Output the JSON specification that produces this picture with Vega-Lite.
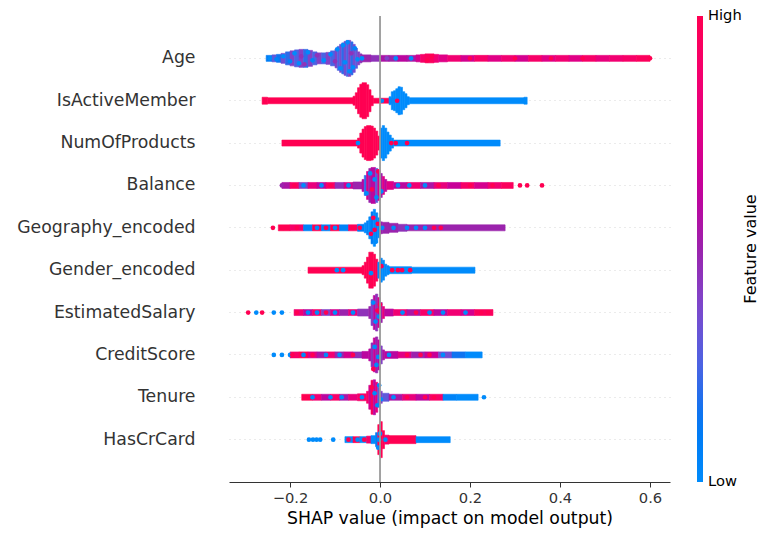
{
  "$schema": "https://vega.github.io/schema/vega-lite/v6.json",
  "description": "SHAP summary (beeswarm) plot of churn model features",
  "autosize": "none",
  "width": 441,
  "height": 466,
  "padding": {"left": 229, "top": 16, "right": 101, "bottom": 58},
  "config": {
    "font": "DejaVu Sans",
    "view": {"stroke": null}
  },
  "datasets": {
    "seg": [
      {"f":"Age","s":-0.253,"e":-0.24,"n":6,"v":0.1},
      {"f":"Age","s":-0.24,"e":-0.23,"n":7,"v":0.3},
      {"f":"Age","s":-0.23,"e":-0.22,"n":8,"v":0.15},
      {"f":"Age","s":-0.22,"e":-0.21,"n":10,"v":0.35},
      {"f":"Age","s":-0.21,"e":-0.2,"n":13,"v":0.2},
      {"f":"Age","s":-0.2,"e":-0.19,"n":15,"v":0.4},
      {"f":"Age","s":-0.19,"e":-0.18,"n":17,"v":0.25},
      {"f":"Age","s":-0.18,"e":-0.17,"n":18,"v":0.4},
      {"f":"Age","s":-0.17,"e":-0.16,"n":18,"v":0.2},
      {"f":"Age","s":-0.16,"e":-0.15,"n":16,"v":0.4},
      {"f":"Age","s":-0.15,"e":-0.14,"n":13,"v":0.25},
      {"f":"Age","s":-0.14,"e":-0.13,"n":11,"v":0.4},
      {"f":"Age","s":-0.13,"e":-0.12,"n":11,"v":0.25},
      {"f":"Age","s":-0.12,"e":-0.11,"n":12,"v":0.4},
      {"f":"Age","s":-0.11,"e":-0.1,"n":15,"v":0.25},
      {"f":"Age","s":-0.1,"e":-0.095,"n":19,"v":0.4},
      {"f":"Age","s":-0.095,"e":-0.09,"n":24,"v":0.25},
      {"f":"Age","s":-0.09,"e":-0.085,"n":28,"v":0.35},
      {"f":"Age","s":-0.085,"e":-0.08,"n":31,"v":0.2},
      {"f":"Age","s":-0.08,"e":-0.075,"n":34,"v":0.35},
      {"f":"Age","s":-0.075,"e":-0.07,"n":36,"v":0.25},
      {"f":"Age","s":-0.07,"e":-0.065,"n":36,"v":0.4},
      {"f":"Age","s":-0.065,"e":-0.06,"n":33,"v":0.2},
      {"f":"Age","s":-0.06,"e":-0.055,"n":28,"v":0.35},
      {"f":"Age","s":-0.055,"e":-0.05,"n":20,"v":0.3},
      {"f":"Age","s":-0.05,"e":-0.045,"n":13,"v":0.4},
      {"f":"Age","s":-0.045,"e":-0.04,"n":9,"v":0.45},
      {"f":"Age","s":-0.04,"e":-0.02,"n":7,"v":0.5},
      {"f":"Age","s":-0.02,"e":0.0,"n":6,"v":0.45},
      {"f":"Age","s":0.0,"e":0.02,"n":6,"v":0.55},
      {"f":"Age","s":0.02,"e":0.04,"n":6,"v":0.5},
      {"f":"Age","s":0.04,"e":0.06,"n":6,"v":0.6},
      {"f":"Age","s":0.06,"e":0.08,"n":6,"v":0.55},
      {"f":"Age","s":0.08,"e":0.09,"n":7,"v":0.7},
      {"f":"Age","s":0.09,"e":0.1,"n":8,"v":0.9},
      {"f":"Age","s":0.1,"e":0.12,"n":9,"v":0.95},
      {"f":"Age","s":0.12,"e":0.13,"n":8,"v":0.85},
      {"f":"Age","s":0.13,"e":0.15,"n":7,"v":0.75},
      {"f":"Age","s":0.15,"e":0.18,"n":6,"v":0.85},
      {"f":"Age","s":0.18,"e":0.21,"n":6,"v":0.7},
      {"f":"Age","s":0.21,"e":0.24,"n":6,"v":0.9},
      {"f":"Age","s":0.24,"e":0.27,"n":6,"v":0.75},
      {"f":"Age","s":0.27,"e":0.3,"n":6,"v":0.85},
      {"f":"Age","s":0.3,"e":0.33,"n":6,"v":0.7},
      {"f":"Age","s":0.33,"e":0.36,"n":6,"v":0.9},
      {"f":"Age","s":0.36,"e":0.39,"n":6,"v":0.75},
      {"f":"Age","s":0.39,"e":0.42,"n":6,"v":0.85},
      {"f":"Age","s":0.42,"e":0.45,"n":6,"v":0.75},
      {"f":"Age","s":0.45,"e":0.48,"n":6,"v":0.9},
      {"f":"Age","s":0.48,"e":0.51,"n":6,"v":0.8},
      {"f":"Age","s":0.51,"e":0.54,"n":6,"v":0.85},
      {"f":"Age","s":0.54,"e":0.57,"n":6,"v":0.9},
      {"f":"Age","s":0.57,"e":0.6,"n":6,"v":0.95},

      {"f":"IsActiveMember","s":-0.262,"e":-0.25,"n":7,"v":1},
      {"f":"IsActiveMember","s":-0.25,"e":-0.06,"n":6,"v":1},
      {"f":"IsActiveMember","s":-0.06,"e":-0.055,"n":9,"v":1},
      {"f":"IsActiveMember","s":-0.055,"e":-0.05,"n":16,"v":1},
      {"f":"IsActiveMember","s":-0.05,"e":-0.045,"n":26,"v":1},
      {"f":"IsActiveMember","s":-0.045,"e":-0.04,"n":33,"v":1},
      {"f":"IsActiveMember","s":-0.04,"e":-0.03,"n":36,"v":1},
      {"f":"IsActiveMember","s":-0.03,"e":-0.025,"n":32,"v":1},
      {"f":"IsActiveMember","s":-0.025,"e":-0.02,"n":22,"v":1},
      {"f":"IsActiveMember","s":-0.02,"e":-0.015,"n":10,"v":1},
      {"f":"IsActiveMember","s":-0.015,"e":0.03,"n":5,"v":1},
      {"f":"IsActiveMember","s":0.02,"e":0.025,"n":8,"v":0},
      {"f":"IsActiveMember","s":0.025,"e":0.03,"n":18,"v":0},
      {"f":"IsActiveMember","s":0.03,"e":0.035,"n":20,"v":0},
      {"f":"IsActiveMember","s":0.035,"e":0.04,"n":24,"v":0},
      {"f":"IsActiveMember","s":0.04,"e":0.045,"n":28,"v":0},
      {"f":"IsActiveMember","s":0.045,"e":0.05,"n":27,"v":0},
      {"f":"IsActiveMember","s":0.05,"e":0.055,"n":18,"v":0},
      {"f":"IsActiveMember","s":0.055,"e":0.06,"n":14,"v":0},
      {"f":"IsActiveMember","s":0.06,"e":0.065,"n":8,"v":0},
      {"f":"IsActiveMember","s":0.065,"e":0.32,"n":6,"v":0},
      {"f":"IsActiveMember","s":0.32,"e":0.327,"n":7,"v":0},

      {"f":"NumOfProducts","s":-0.218,"e":-0.05,"n":6,"v":1},
      {"f":"NumOfProducts","s":-0.05,"e":-0.045,"n":10,"v":1},
      {"f":"NumOfProducts","s":-0.045,"e":-0.04,"n":20,"v":1},
      {"f":"NumOfProducts","s":-0.04,"e":-0.035,"n":28,"v":1},
      {"f":"NumOfProducts","s":-0.035,"e":-0.03,"n":33,"v":1},
      {"f":"NumOfProducts","s":-0.03,"e":-0.02,"n":35,"v":1},
      {"f":"NumOfProducts","s":-0.02,"e":-0.015,"n":34,"v":1},
      {"f":"NumOfProducts","s":-0.015,"e":-0.01,"n":30,"v":1},
      {"f":"NumOfProducts","s":-0.01,"e":-0.005,"n":24,"v":1},
      {"f":"NumOfProducts","s":-0.005,"e":0.0,"n":14,"v":1},
      {"f":"NumOfProducts","s":0.0,"e":0.005,"n":30,"v":0},
      {"f":"NumOfProducts","s":0.005,"e":0.01,"n":35,"v":0},
      {"f":"NumOfProducts","s":0.01,"e":0.015,"n":30,"v":0},
      {"f":"NumOfProducts","s":0.015,"e":0.02,"n":22,"v":0},
      {"f":"NumOfProducts","s":0.02,"e":0.025,"n":16,"v":0},
      {"f":"NumOfProducts","s":0.025,"e":0.03,"n":10,"v":0},
      {"f":"NumOfProducts","s":0.03,"e":0.267,"n":6,"v":0},

      {"f":"Balance","s":-0.218,"e":-0.2,"n":6,"v":0.55},
      {"f":"Balance","s":-0.2,"e":-0.18,"n":6,"v":0.9},
      {"f":"Balance","s":-0.18,"e":-0.16,"n":6,"v":0.4},
      {"f":"Balance","s":-0.16,"e":-0.14,"n":6,"v":0.8},
      {"f":"Balance","s":-0.14,"e":-0.12,"n":6,"v":0.6},
      {"f":"Balance","s":-0.12,"e":-0.1,"n":6,"v":0.9},
      {"f":"Balance","s":-0.1,"e":-0.08,"n":6,"v":0.45},
      {"f":"Balance","s":-0.08,"e":-0.06,"n":6,"v":0.7},
      {"f":"Balance","s":-0.06,"e":-0.04,"n":7,"v":0.5},
      {"f":"Balance","s":-0.04,"e":-0.035,"n":12,"v":0.6},
      {"f":"Balance","s":-0.035,"e":-0.03,"n":20,"v":0.2},
      {"f":"Balance","s":-0.03,"e":-0.025,"n":28,"v":0.7},
      {"f":"Balance","s":-0.025,"e":-0.02,"n":34,"v":0.5},
      {"f":"Balance","s":-0.02,"e":-0.01,"n":36,"v":0.6},
      {"f":"Balance","s":-0.01,"e":-0.005,"n":34,"v":0.3},
      {"f":"Balance","s":-0.005,"e":0.0,"n":30,"v":0.7},
      {"f":"Balance","s":0.0,"e":0.005,"n":24,"v":0.5},
      {"f":"Balance","s":0.005,"e":0.01,"n":18,"v":0.75},
      {"f":"Balance","s":0.01,"e":0.015,"n":12,"v":0.6},
      {"f":"Balance","s":0.015,"e":0.03,"n":8,"v":0.75},
      {"f":"Balance","s":0.03,"e":0.06,"n":6,"v":0.6},
      {"f":"Balance","s":0.06,"e":0.09,"n":6,"v":0.85},
      {"f":"Balance","s":0.09,"e":0.12,"n":6,"v":0.55},
      {"f":"Balance","s":0.12,"e":0.15,"n":6,"v":0.8},
      {"f":"Balance","s":0.15,"e":0.18,"n":6,"v":0.65},
      {"f":"Balance","s":0.18,"e":0.21,"n":6,"v":0.9},
      {"f":"Balance","s":0.21,"e":0.24,"n":6,"v":0.7},
      {"f":"Balance","s":0.24,"e":0.27,"n":6,"v":0.85},
      {"f":"Balance","s":0.27,"e":0.296,"n":6,"v":0.95},

      {"f":"Geography_encoded","s":-0.226,"e":-0.2,"n":6,"v":1},
      {"f":"Geography_encoded","s":-0.2,"e":-0.17,"n":6,"v":0.9},
      {"f":"Geography_encoded","s":-0.17,"e":-0.15,"n":6,"v":0.05},
      {"f":"Geography_encoded","s":-0.15,"e":-0.13,"n":6,"v":1},
      {"f":"Geography_encoded","s":-0.13,"e":-0.11,"n":6,"v":0.05},
      {"f":"Geography_encoded","s":-0.11,"e":-0.09,"n":6,"v":1},
      {"f":"Geography_encoded","s":-0.09,"e":-0.07,"n":6,"v":0.05},
      {"f":"Geography_encoded","s":-0.07,"e":-0.05,"n":6,"v":0.95},
      {"f":"Geography_encoded","s":-0.05,"e":-0.035,"n":7,"v":0.1},
      {"f":"Geography_encoded","s":-0.035,"e":-0.03,"n":10,"v":0},
      {"f":"Geography_encoded","s":-0.03,"e":-0.025,"n":14,"v":0.05},
      {"f":"Geography_encoded","s":-0.025,"e":-0.02,"n":22,"v":0},
      {"f":"Geography_encoded","s":-0.02,"e":-0.015,"n":32,"v":0.1},
      {"f":"Geography_encoded","s":-0.015,"e":-0.01,"n":37,"v":0},
      {"f":"Geography_encoded","s":-0.01,"e":-0.005,"n":30,"v":0.05},
      {"f":"Geography_encoded","s":-0.005,"e":0.0,"n":20,"v":0},
      {"f":"Geography_encoded","s":0.0,"e":0.005,"n":12,"v":0.5},
      {"f":"Geography_encoded","s":0.005,"e":0.02,"n":11,"v":0.5},
      {"f":"Geography_encoded","s":0.02,"e":0.04,"n":9,"v":0.5},
      {"f":"Geography_encoded","s":0.04,"e":0.06,"n":7,"v":0.45},
      {"f":"Geography_encoded","s":0.06,"e":0.278,"n":6,"v":0.5},

      {"f":"Gender_encoded","s":-0.16,"e":-0.04,"n":6,"v":1},
      {"f":"Gender_encoded","s":-0.04,"e":-0.035,"n":9,"v":1},
      {"f":"Gender_encoded","s":-0.035,"e":-0.03,"n":16,"v":1},
      {"f":"Gender_encoded","s":-0.03,"e":-0.025,"n":26,"v":1},
      {"f":"Gender_encoded","s":-0.025,"e":-0.015,"n":36,"v":1},
      {"f":"Gender_encoded","s":-0.015,"e":-0.01,"n":32,"v":1},
      {"f":"Gender_encoded","s":-0.01,"e":-0.005,"n":22,"v":1},
      {"f":"Gender_encoded","s":-0.005,"e":0.0,"n":16,"v":0},
      {"f":"Gender_encoded","s":0.0,"e":0.005,"n":24,"v":0},
      {"f":"Gender_encoded","s":0.005,"e":0.01,"n":20,"v":0},
      {"f":"Gender_encoded","s":0.01,"e":0.015,"n":12,"v":0},
      {"f":"Gender_encoded","s":0.015,"e":0.02,"n":9,"v":0},
      {"f":"Gender_encoded","s":0.02,"e":0.07,"n":7,"v":0},
      {"f":"Gender_encoded","s":0.07,"e":0.211,"n":6,"v":0},

      {"f":"EstimatedSalary","s":-0.191,"e":-0.17,"n":6,"v":0.85},
      {"f":"EstimatedSalary","s":-0.17,"e":-0.15,"n":6,"v":0.6},
      {"f":"EstimatedSalary","s":-0.15,"e":-0.13,"n":6,"v":0.9},
      {"f":"EstimatedSalary","s":-0.13,"e":-0.11,"n":6,"v":0.4},
      {"f":"EstimatedSalary","s":-0.11,"e":-0.09,"n":6,"v":0.7},
      {"f":"EstimatedSalary","s":-0.09,"e":-0.07,"n":6,"v":0.5},
      {"f":"EstimatedSalary","s":-0.07,"e":-0.05,"n":6,"v":0.8},
      {"f":"EstimatedSalary","s":-0.05,"e":-0.025,"n":7,"v":0.45},
      {"f":"EstimatedSalary","s":-0.025,"e":-0.02,"n":12,"v":0.5},
      {"f":"EstimatedSalary","s":-0.02,"e":-0.015,"n":26,"v":0.4},
      {"f":"EstimatedSalary","s":-0.015,"e":-0.01,"n":34,"v":0.6},
      {"f":"EstimatedSalary","s":-0.01,"e":-0.005,"n":37,"v":0.45},
      {"f":"EstimatedSalary","s":-0.005,"e":0.0,"n":30,"v":0.7},
      {"f":"EstimatedSalary","s":0.0,"e":0.005,"n":20,"v":0.5},
      {"f":"EstimatedSalary","s":0.005,"e":0.01,"n":12,"v":0.8},
      {"f":"EstimatedSalary","s":0.01,"e":0.03,"n":7,"v":0.6},
      {"f":"EstimatedSalary","s":0.03,"e":0.06,"n":6,"v":0.85},
      {"f":"EstimatedSalary","s":0.06,"e":0.09,"n":6,"v":0.55},
      {"f":"EstimatedSalary","s":0.09,"e":0.12,"n":6,"v":0.9},
      {"f":"EstimatedSalary","s":0.12,"e":0.15,"n":6,"v":0.6},
      {"f":"EstimatedSalary","s":0.15,"e":0.18,"n":6,"v":0.85},
      {"f":"EstimatedSalary","s":0.18,"e":0.21,"n":6,"v":0.7},
      {"f":"EstimatedSalary","s":0.21,"e":0.251,"n":6,"v":0.95},

      {"f":"CreditScore","s":-0.2,"e":-0.18,"n":6,"v":0.9},
      {"f":"CreditScore","s":-0.18,"e":-0.16,"n":6,"v":1},
      {"f":"CreditScore","s":-0.16,"e":-0.14,"n":6,"v":0.75},
      {"f":"CreditScore","s":-0.14,"e":-0.12,"n":6,"v":0.55},
      {"f":"CreditScore","s":-0.12,"e":-0.1,"n":6,"v":0.85},
      {"f":"CreditScore","s":-0.1,"e":-0.08,"n":6,"v":0.5},
      {"f":"CreditScore","s":-0.08,"e":-0.06,"n":6,"v":0.7},
      {"f":"CreditScore","s":-0.06,"e":-0.04,"n":6,"v":0.45},
      {"f":"CreditScore","s":-0.04,"e":-0.025,"n":7,"v":0.6},
      {"f":"CreditScore","s":-0.025,"e":-0.02,"n":12,"v":0.6},
      {"f":"CreditScore","s":-0.02,"e":-0.015,"n":24,"v":0.45},
      {"f":"CreditScore","s":-0.015,"e":-0.01,"n":34,"v":0.65},
      {"f":"CreditScore","s":-0.01,"e":-0.005,"n":36,"v":0.5},
      {"f":"CreditScore","s":-0.005,"e":0.0,"n":30,"v":0.6},
      {"f":"CreditScore","s":0.0,"e":0.005,"n":18,"v":0.4},
      {"f":"CreditScore","s":0.005,"e":0.01,"n":10,"v":0.55},
      {"f":"CreditScore","s":0.01,"e":0.04,"n":7,"v":0.6},
      {"f":"CreditScore","s":0.04,"e":0.07,"n":6,"v":0.75},
      {"f":"CreditScore","s":0.07,"e":0.1,"n":6,"v":0.5},
      {"f":"CreditScore","s":0.1,"e":0.13,"n":6,"v":0.65},
      {"f":"CreditScore","s":0.13,"e":0.16,"n":6,"v":0.35},
      {"f":"CreditScore","s":0.16,"e":0.19,"n":6,"v":0.15},
      {"f":"CreditScore","s":0.19,"e":0.227,"n":6,"v":0},

      {"f":"Tenure","s":-0.174,"e":-0.15,"n":6,"v":1},
      {"f":"Tenure","s":-0.15,"e":-0.13,"n":6,"v":0.85},
      {"f":"Tenure","s":-0.13,"e":-0.11,"n":6,"v":0.6},
      {"f":"Tenure","s":-0.11,"e":-0.09,"n":6,"v":0.9},
      {"f":"Tenure","s":-0.09,"e":-0.07,"n":6,"v":0.55},
      {"f":"Tenure","s":-0.07,"e":-0.05,"n":6,"v":0.8},
      {"f":"Tenure","s":-0.05,"e":-0.03,"n":7,"v":0.9},
      {"f":"Tenure","s":-0.03,"e":-0.025,"n":12,"v":0.9},
      {"f":"Tenure","s":-0.025,"e":-0.02,"n":24,"v":0.7},
      {"f":"Tenure","s":-0.02,"e":-0.015,"n":34,"v":0.95},
      {"f":"Tenure","s":-0.015,"e":-0.01,"n":35,"v":0.6},
      {"f":"Tenure","s":-0.01,"e":-0.005,"n":30,"v":0.8},
      {"f":"Tenure","s":-0.005,"e":0.0,"n":20,"v":0.3},
      {"f":"Tenure","s":0.0,"e":0.005,"n":12,"v":0.4},
      {"f":"Tenure","s":0.005,"e":0.02,"n":8,"v":0.3},
      {"f":"Tenure","s":0.02,"e":0.05,"n":6,"v":0.55},
      {"f":"Tenure","s":0.05,"e":0.08,"n":6,"v":0.8},
      {"f":"Tenure","s":0.08,"e":0.11,"n":6,"v":0.6},
      {"f":"Tenure","s":0.11,"e":0.14,"n":6,"v":0.9},
      {"f":"Tenure","s":0.14,"e":0.17,"n":6,"v":0.05},
      {"f":"Tenure","s":0.17,"e":0.218,"n":6,"v":0},

      {"f":"HasCrCard","s":-0.078,"e":-0.06,"n":6,"v":0},
      {"f":"HasCrCard","s":-0.06,"e":-0.045,"n":6,"v":1},
      {"f":"HasCrCard","s":-0.045,"e":-0.03,"n":6,"v":0},
      {"f":"HasCrCard","s":-0.03,"e":-0.02,"n":7,"v":0.9},
      {"f":"HasCrCard","s":-0.02,"e":-0.01,"n":8,"v":0},
      {"f":"HasCrCard","s":-0.01,"e":-0.005,"n":14,"v":0.1},
      {"f":"HasCrCard","s":-0.005,"e":0.0,"n":30,"v":1},
      {"f":"HasCrCard","s":0.0,"e":0.005,"n":36,"v":1},
      {"f":"HasCrCard","s":0.005,"e":0.01,"n":18,"v":1},
      {"f":"HasCrCard","s":0.01,"e":0.02,"n":9,"v":0.9},
      {"f":"HasCrCard","s":0.02,"e":0.08,"n":8,"v":1},
      {"f":"HasCrCard","s":0.08,"e":0.156,"n":6,"v":0}
    ],
    "dot": [
      {"f":"Age","s":-0.245,"o":0,"v":0},
      {"f":"Age","s":-0.23,"o":1,"v":0.05},
      {"f":"Age","s":-0.215,"o":-2,"v":0},
      {"f":"Age","s":-0.2,"o":3,"v":0.05},
      {"f":"Age","s":-0.19,"o":-5,"v":0},
      {"f":"Age","s":-0.18,"o":5,"v":0},
      {"f":"Age","s":-0.175,"o":-2,"v":0.45},
      {"f":"Age","s":-0.168,"o":6,"v":0.45},
      {"f":"Age","s":-0.16,"o":-6,"v":0},
      {"f":"Age","s":-0.15,"o":2,"v":0.05},
      {"f":"Age","s":-0.14,"o":-3,"v":0.45},
      {"f":"Age","s":-0.125,"o":2,"v":0},
      {"f":"Age","s":-0.11,"o":-4,"v":0},
      {"f":"Age","s":-0.1,"o":3,"v":0.45},
      {"f":"Age","s":-0.095,"o":-9,"v":0},
      {"f":"Age","s":-0.088,"o":10,"v":0},
      {"f":"Age","s":-0.082,"o":-13,"v":0},
      {"f":"Age","s":-0.078,"o":4,"v":0},
      {"f":"Age","s":-0.072,"o":-16,"v":0},
      {"f":"Age","s":-0.068,"o":13,"v":0},
      {"f":"Age","s":-0.064,"o":-5,"v":0.45},
      {"f":"Age","s":-0.06,"o":9,"v":0},
      {"f":"Age","s":-0.056,"o":-10,"v":0.05},
      {"f":"Age","s":-0.05,"o":1,"v":0},
      {"f":"Age","s":-0.04,"o":0,"v":0},
      {"f":"Age","s":-0.025,"o":0,"v":0.5},
      {"f":"Age","s":0.015,"o":0,"v":0.4},
      {"f":"Age","s":0.035,"o":0,"v":0},
      {"f":"Age","s":0.069,"o":0,"v":0},
      {"f":"Age","s":0.105,"o":2,"v":1},
      {"f":"Age","s":0.115,"o":-2,"v":1},
      {"f":"Age","s":0.2,"o":0,"v":1},
      {"f":"Age","s":0.3,"o":0,"v":1},
      {"f":"Age","s":0.38,"o":0,"v":1},
      {"f":"Age","s":0.45,"o":0,"v":1},
      {"f":"Age","s":0.6,"o":0,"v":1},
      {"f":"IsActiveMember","s":0.004,"o":0,"v":0},
      {"f":"IsActiveMember","s":0.038,"o":0,"v":1},
      {"f":"NumOfProducts","s":-0.049,"o":0,"v":0},
      {"f":"NumOfProducts","s":0.025,"o":0,"v":1},
      {"f":"NumOfProducts","s":0.035,"o":0,"v":1},
      {"f":"NumOfProducts","s":0.045,"o":0,"v":0},
      {"f":"NumOfProducts","s":0.06,"o":0,"v":1},
      {"f":"Balance","s":-0.218,"o":0,"v":0.5},
      {"f":"Balance","s":-0.19,"o":0,"v":1},
      {"f":"Balance","s":-0.17,"o":0,"v":0},
      {"f":"Balance","s":-0.13,"o":0,"v":0},
      {"f":"Balance","s":-0.11,"o":0,"v":1},
      {"f":"Balance","s":-0.07,"o":0,"v":0},
      {"f":"Balance","s":-0.03,"o":8,"v":0},
      {"f":"Balance","s":-0.022,"o":-12,"v":0},
      {"f":"Balance","s":-0.018,"o":4,"v":1},
      {"f":"Balance","s":-0.012,"o":-6,"v":0},
      {"f":"Balance","s":-0.008,"o":12,"v":0},
      {"f":"Balance","s":-0.004,"o":-14,"v":1},
      {"f":"Balance","s":0.003,"o":6,"v":0},
      {"f":"Balance","s":0.04,"o":0,"v":0},
      {"f":"Balance","s":0.065,"o":0,"v":0},
      {"f":"Balance","s":0.1,"o":0,"v":0},
      {"f":"Balance","s":0.13,"o":0,"v":1},
      {"f":"Balance","s":0.2,"o":0,"v":1},
      {"f":"Balance","s":0.25,"o":0,"v":1},
      {"f":"Balance","s":0.311,"o":0,"v":1},
      {"f":"Balance","s":0.327,"o":0,"v":1},
      {"f":"Balance","s":0.36,"o":0,"v":1},
      {"f":"Geography_encoded","s":-0.238,"o":0,"v":1},
      {"f":"Geography_encoded","s":-0.215,"o":0,"v":1},
      {"f":"Geography_encoded","s":-0.185,"o":0,"v":1},
      {"f":"Geography_encoded","s":-0.14,"o":0,"v":0},
      {"f":"Geography_encoded","s":-0.12,"o":0,"v":1},
      {"f":"Geography_encoded","s":-0.1,"o":0,"v":0},
      {"f":"Geography_encoded","s":-0.06,"o":0,"v":1},
      {"f":"Geography_encoded","s":-0.045,"o":0,"v":1},
      {"f":"Geography_encoded","s":-0.02,"o":6,"v":1},
      {"f":"Geography_encoded","s":-0.015,"o":-10,"v":1},
      {"f":"Geography_encoded","s":-0.012,"o":2,"v":1},
      {"f":"Geography_encoded","s":-0.01,"o":14,"v":0},
      {"f":"Geography_encoded","s":-0.005,"o":-4,"v":1},
      {"f":"Geography_encoded","s":0.005,"o":0,"v":0},
      {"f":"Geography_encoded","s":0.03,"o":0,"v":0},
      {"f":"Geography_encoded","s":0.06,"o":0,"v":0},
      {"f":"Geography_encoded","s":0.08,"o":0,"v":0},
      {"f":"Geography_encoded","s":0.1,"o":0,"v":0},
      {"f":"Geography_encoded","s":0.12,"o":0,"v":1},
      {"f":"Geography_encoded","s":0.135,"o":0,"v":1},
      {"f":"Gender_encoded","s":-0.096,"o":0,"v":0},
      {"f":"Gender_encoded","s":-0.082,"o":0,"v":0},
      {"f":"Gender_encoded","s":-0.02,"o":3,"v":0},
      {"f":"Gender_encoded","s":0.003,"o":-4,"v":1},
      {"f":"Gender_encoded","s":0.027,"o":0,"v":1},
      {"f":"Gender_encoded","s":0.04,"o":0,"v":1},
      {"f":"Gender_encoded","s":0.049,"o":0,"v":1},
      {"f":"Gender_encoded","s":0.067,"o":0,"v":1},
      {"f":"EstimatedSalary","s":-0.293,"o":0,"v":1},
      {"f":"EstimatedSalary","s":-0.275,"o":0,"v":0},
      {"f":"EstimatedSalary","s":-0.262,"o":0,"v":1},
      {"f":"EstimatedSalary","s":-0.236,"o":0,"v":0},
      {"f":"EstimatedSalary","s":-0.218,"o":0,"v":0},
      {"f":"EstimatedSalary","s":-0.185,"o":0,"v":1},
      {"f":"EstimatedSalary","s":-0.16,"o":0,"v":0},
      {"f":"EstimatedSalary","s":-0.14,"o":0,"v":0},
      {"f":"EstimatedSalary","s":-0.12,"o":0,"v":1},
      {"f":"EstimatedSalary","s":-0.1,"o":0,"v":0},
      {"f":"EstimatedSalary","s":-0.06,"o":0,"v":0},
      {"f":"EstimatedSalary","s":-0.015,"o":-10,"v":0},
      {"f":"EstimatedSalary","s":-0.01,"o":9,"v":0},
      {"f":"EstimatedSalary","s":-0.006,"o":-2,"v":1},
      {"f":"EstimatedSalary","s":-0.003,"o":4,"v":0},
      {"f":"EstimatedSalary","s":0.0,"o":-8,"v":1},
      {"f":"EstimatedSalary","s":0.05,"o":0,"v":0},
      {"f":"EstimatedSalary","s":0.08,"o":0,"v":1},
      {"f":"EstimatedSalary","s":0.11,"o":0,"v":0},
      {"f":"EstimatedSalary","s":0.14,"o":0,"v":0},
      {"f":"EstimatedSalary","s":0.19,"o":0,"v":0},
      {"f":"EstimatedSalary","s":0.225,"o":0,"v":1},
      {"f":"EstimatedSalary","s":0.24,"o":0,"v":1},
      {"f":"CreditScore","s":-0.236,"o":0,"v":0},
      {"f":"CreditScore","s":-0.218,"o":0,"v":0},
      {"f":"CreditScore","s":-0.2,"o":0,"v":0},
      {"f":"CreditScore","s":-0.195,"o":0,"v":1},
      {"f":"CreditScore","s":-0.17,"o":0,"v":0},
      {"f":"CreditScore","s":-0.15,"o":0,"v":1},
      {"f":"CreditScore","s":-0.12,"o":0,"v":0},
      {"f":"CreditScore","s":-0.09,"o":0,"v":0},
      {"f":"CreditScore","s":-0.06,"o":0,"v":1},
      {"f":"CreditScore","s":-0.015,"o":14,"v":1},
      {"f":"CreditScore","s":-0.012,"o":-8,"v":0},
      {"f":"CreditScore","s":-0.008,"o":10,"v":0},
      {"f":"CreditScore","s":-0.004,"o":2,"v":0},
      {"f":"CreditScore","s":0.02,"o":0,"v":0},
      {"f":"CreditScore","s":0.06,"o":0,"v":1},
      {"f":"CreditScore","s":0.09,"o":0,"v":1},
      {"f":"CreditScore","s":0.11,"o":0,"v":1},
      {"f":"CreditScore","s":0.14,"o":0,"v":0},
      {"f":"Tenure","s":-0.15,"o":0,"v":0},
      {"f":"Tenure","s":-0.11,"o":0,"v":0},
      {"f":"Tenure","s":-0.085,"o":0,"v":0},
      {"f":"Tenure","s":-0.04,"o":0,"v":0},
      {"f":"Tenure","s":-0.018,"o":-10,"v":1},
      {"f":"Tenure","s":-0.012,"o":-4,"v":0},
      {"f":"Tenure","s":-0.006,"o":8,"v":0},
      {"f":"Tenure","s":-0.002,"o":-12,"v":0},
      {"f":"Tenure","s":0.002,"o":2,"v":0},
      {"f":"Tenure","s":0.03,"o":0,"v":0},
      {"f":"Tenure","s":0.06,"o":0,"v":1},
      {"f":"Tenure","s":0.1,"o":0,"v":1},
      {"f":"Tenure","s":0.12,"o":0,"v":1},
      {"f":"Tenure","s":0.231,"o":0,"v":0},
      {"f":"HasCrCard","s":-0.158,"o":0,"v":0},
      {"f":"HasCrCard","s":-0.149,"o":0,"v":0},
      {"f":"HasCrCard","s":-0.141,"o":0,"v":0},
      {"f":"HasCrCard","s":-0.133,"o":0,"v":0},
      {"f":"HasCrCard","s":-0.104,"o":0,"v":0},
      {"f":"HasCrCard","s":-0.07,"o":0,"v":1},
      {"f":"HasCrCard","s":-0.05,"o":0,"v":0},
      {"f":"HasCrCard","s":-0.035,"o":0,"v":1},
      {"f":"HasCrCard","s":-0.004,"o":8,"v":0},
      {"f":"HasCrCard","s":-0.002,"o":0,"v":0},
      {"f":"HasCrCard","s":0.0,"o":-6,"v":0},
      {"f":"HasCrCard","s":0.012,"o":0,"v":0}
    ],
    "zero": [{"s": 0}]
  },
  "encoding": {
    "y": {
      "field": "f",
      "type": "nominal",
      "sort": ["Age","IsActiveMember","NumOfProducts","Balance","Geography_encoded","Gender_encoded","EstimatedSalary","CreditScore","Tenure","HasCrCard"],
      "scale": {"type": "band", "paddingInner": 0, "paddingOuter": 0.5},
      "axis": {
        "title": null,
        "bandPosition": 0.5,
        "domain": false,
        "ticks": false,
        "grid": true,
        "gridColor": "#cccccc",
        "gridDash": [1, 4],
        "gridWidth": 0.8,
        "labelFontSize": 17.3,
        "labelColor": "#333333",
        "labelPadding": 34
      }
    }
  },
  "layer": [
    {
      "data": {"name": "seg"},
      "mark": {"type": "bar", "strokeWidth": 0.6, "stroke": {"expr": "scale('color', datum.v)"}},
      "encoding": {
        "x": {
          "field": "s",
          "type": "quantitative",
          "scale": {"domain": [-0.3356, 0.6444], "nice": false, "zero": false},
          "axis": {
            "values": [-0.2, 0, 0.2, 0.4, 0.6],
            "format": ".1f",
            "labelExpr": "replace(datum.label, '-', '\u2212')",
            "grid": false,
            "domainColor": "#333333",
            "domainWidth": 1,
            "tickColor": "#333333",
            "tickSize": 5,
            "labelFontSize": 14.7,
            "labelColor": "#333333",
            "labelPadding": 3,
            "title": "SHAP value (impact on model output)",
            "titleFontSize": 17.3,
            "titleFontWeight": "normal",
            "titleColor": "#000000",
            "titlePadding": 5
          }
        },
        "x2": {"field": "e"},
        "size": {"field": "n", "type": "quantitative", "scale": {"domain": [0, 40], "range": [0, 40]}, "legend": null},
        "color": {
          "field": "v",
          "type": "quantitative",
          "scale": {
            "domain": [0, 0.125, 0.25, 0.375, 0.5, 0.625, 0.75, 0.875, 1],
            "range": ["#008bfb", "#0078f3", "#4b63e3", "#7d49cc", "#9b23ad", "#c2009c", "#e00086", "#f5006d", "#ff0052"],
            "interpolate": "rgb"
          },
          "legend": {
            "orient": "none",
            "legendX": 468,
            "legendY": 0,
            "direction": "vertical",
            "values": [0, 1],
            "labelExpr": "datum.value >= 0.5 ? 'High' : 'Low'",
            "gradientLength": 466,
            "gradientThickness": 6,
            "gradientStrokeWidth": 0,
            "labelFontSize": 14.7,
            "labelColor": "#000000",
            "labelOffset": 5,
            "title": "Feature value",
            "titleOrient": "right",
            "titleAnchor": "middle",
            "titleFontSize": 16,
            "titleFontWeight": "normal",
            "titleColor": "#000000",
            "titlePadding": 17,
            "encode": {
              "labels": {"update": {"baseline": {"value": "middle"}}},
              "title": {"update": {"angle": {"value": 270}}}
            }
          }
        }
      }
    },
    {
      "data": {"name": "dot"},
      "mark": {"type": "circle", "size": 22, "opacity": 1},
      "encoding": {
        "x": {"field": "s", "type": "quantitative"},
        "yOffset": {"field": "o", "type": "quantitative", "scale": {"domain": [-21.18, 21.18], "range": [0, 42.36]}},
        "color": {"field": "v", "type": "quantitative"}
      }
    },
    {
      "data": {"name": "zero"},
      "mark": {"type": "rule", "color": "#999999", "strokeWidth": 1.8},
      "encoding": {
        "x": {"field": "s", "type": "quantitative"},
        "y": {"value": 0},
        "y2": {"value": 466}
      }
    }
  ]
}
